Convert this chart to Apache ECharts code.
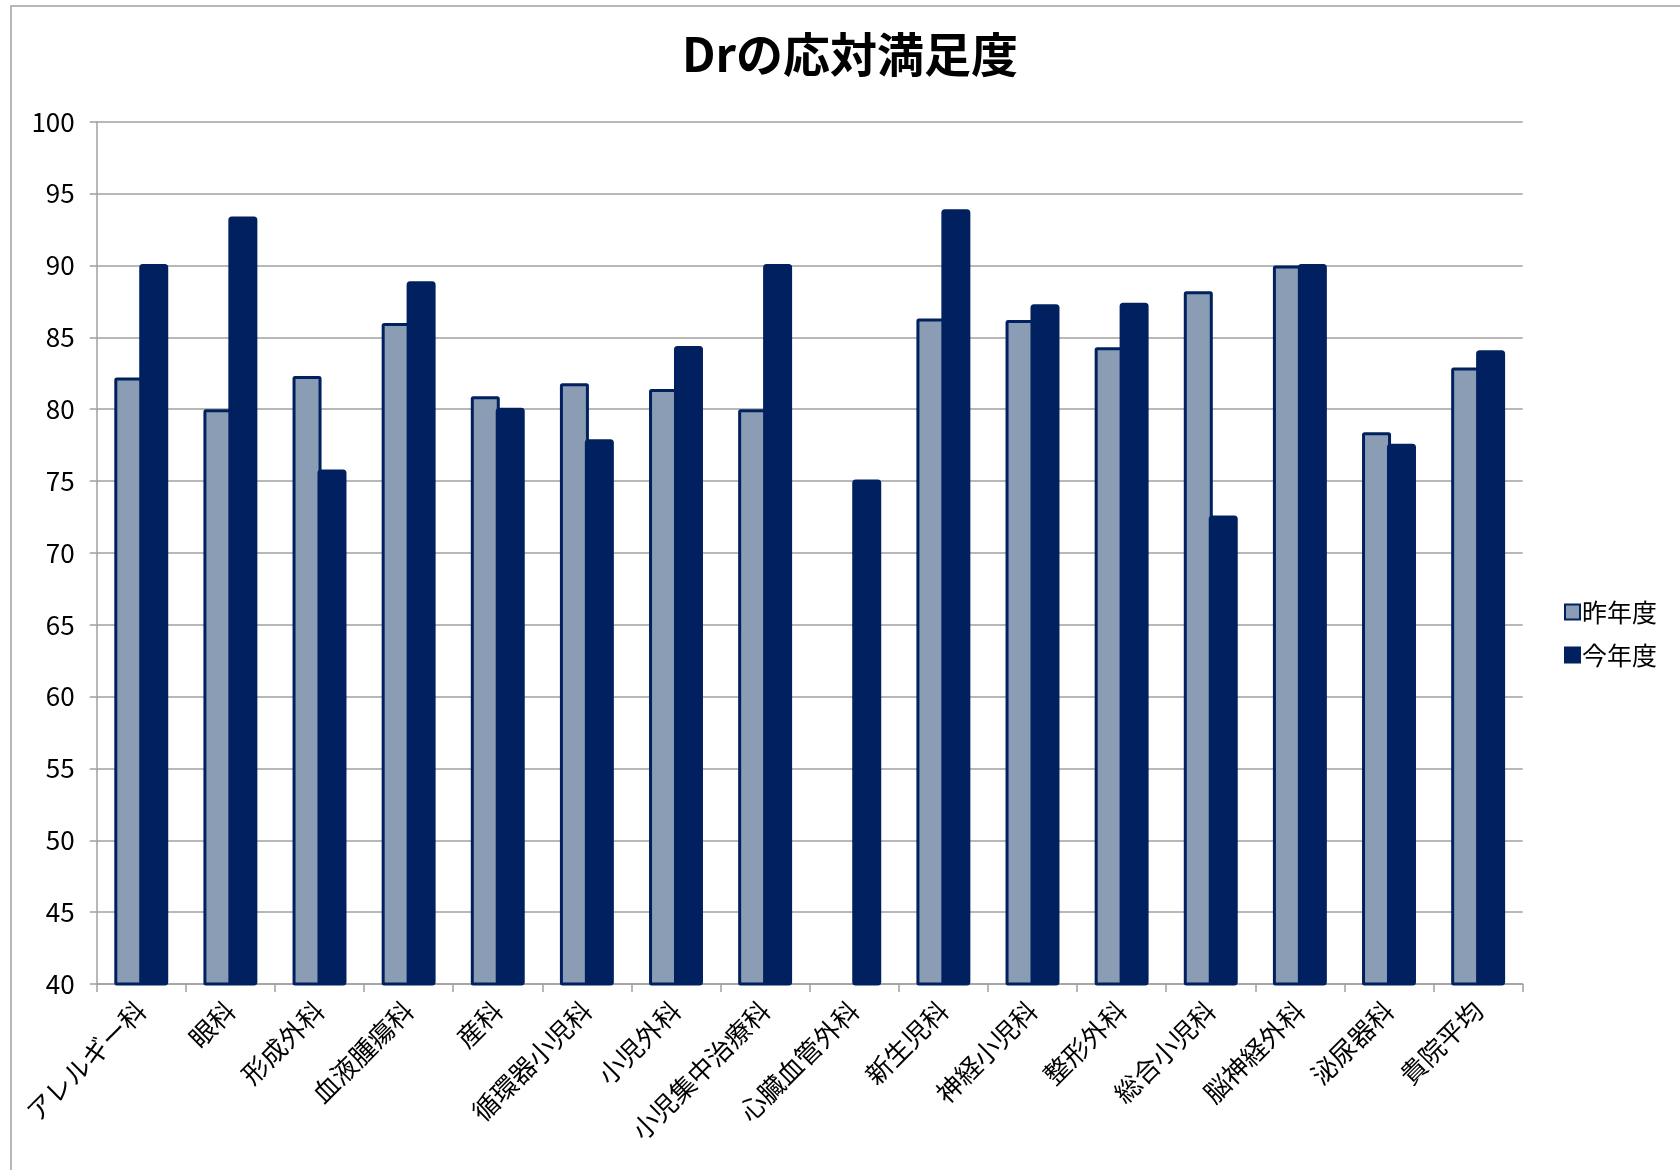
<!DOCTYPE html>
<html>
<head>
<meta charset="utf-8">
<script src="https://cdn.jsdelivr.net/npm/echarts@6/dist/echarts.min.js"></script>
<style>
html,body{margin:0;padding:0;background:#fff;}
#chart{width:1680px;height:1170px;}
</style>
</head>
<body>
<div id="chart"></div>
<script>
const categories = ['アレルギー科','眼科','形成外科','血液腫瘍科','産科','循環器小児科','小児外科','小児集中治療科','心臓血管外科','新生児科','神経小児科','整形外科','総合小児科','脳神経外科','泌尿器科','貴院平均'];
const lastYear = [82.2, 80.0, 82.3, 86.0, 80.9, 81.8, 81.4, 80.0, null, 86.3, 86.2, 84.3, 88.2, 90.0, 78.4, 82.9];
const thisYear = [90.1, 93.4, 75.8, 88.9, 80.1, 77.9, 84.4, 90.1, 75.1, 93.9, 87.3, 87.4, 72.6, 90.1, 77.6, 84.1];
const seriesNames = ['昨年度','今年度'];
const yMin = 40, yMax = 100, yStep = 5;

const FONT = "'Noto Sans CJK JP', 'Noto Sans', sans-serif";
const chart = echarts.init(document.getElementById('chart'), null, {renderer:'canvas'});
chart.setOption({
  animation: false,
  backgroundColor: '#fff',
  title: {
    text: 'Drの応対満足度',
    left: 845,
    textAlign: 'center',
    top: 26,
    textStyle: {fontFamily: FONT, fontSize: 47, fontWeight: 'bold', color: '#000'}
  },
  graphic: [{
    type: 'rect',
    shape: {x: 11, y: 6, width: 1900, height: 1400},
    style: {fill: null, stroke: '#a0a0a0', lineWidth: 1.5},
    silent: true
  }],
  legend: {
    orient: 'vertical',
    left: 1559,
    top: 594,
    itemWidth: 15,
    itemHeight: 15,
    itemGap: 17,
    icon: 'rect',
    textStyle: {fontFamily: FONT, fontSize: 25, color: '#000', lineHeight: 26, padding: [0,0,0,-3]},
    data: seriesNames
  },
  grid: {left: 96.7, right: 157.3, top: 121.7, bottom: 186, containLabel: false},
  xAxis: {
    type: 'category',
    data: categories,
    axisLine: {lineStyle: {color: '#a0a0a0', width: 1.5}},
    axisTick: {show: true, length: 8, alignWithLabel: false, lineStyle: {color: '#a0a0a0', width: 1.5}},
    axisLabel: {rotate: 45, margin: 22, interval: 0, fontFamily: FONT, fontSize: 26, color: '#000'}
  },
  yAxis: {
    type: 'value',
    min: yMin, max: yMax, interval: yStep,
    axisLine: {show: true, lineStyle: {color: '#a0a0a0', width: 1.5}},
    axisTick: {show: true, length: 7, lineStyle: {color: '#a0a0a0', width: 1.5}},
    axisLabel: {margin: 22, fontFamily: FONT, fontSize: 26, color: '#000'},
    splitLine: {lineStyle: {color: '#a0a0a0', width: 1.5}}
  },
  series: [
    {
      name: seriesNames[0], type: 'bar', data: lastYear,
      barWidth: 29, barGap: '-14%',
      itemStyle: {color: '#8a9db5', borderColor: '#00205f', borderWidth: 3, borderRadius: 1}
    },
    {
      name: seriesNames[1], type: 'bar', data: thisYear,
      barWidth: 29,
      itemStyle: {color: '#00205f', borderColor: '#00205f', borderWidth: 3, borderRadius: 2}
    }
  ]
});
</script>
</body>
</html>
